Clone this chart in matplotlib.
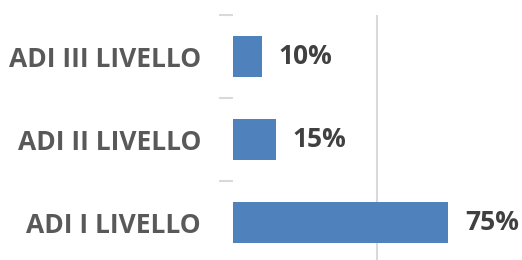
import matplotlib.pyplot as plt

livelli = ['ADI I LIVELLO', 'ADI II LIVELLO', 'ADI III LIVELLO']
percentuali = [75, 15, 10]

plt.rcParams['font.family'] = ['Open Sans', 'DejaVu Sans']

fig = plt.figure(figsize=(5.22, 2.6), dpi=100)
ax = fig.add_axes([233 / 522, -4 / 260, 287 / 522, 249 / 260])

pos = range(len(livelli))
ax.barh(pos, percentuali, height=0.5, color='#4f81bd', zorder=3)
for p, v in zip(pos, percentuali):
    ax.text(v + 5.8, p, f'{v}%', va='center', ha='left', fontsize=19,
            fontweight='bold', color='#404040')

ax.set_xlim(0, 100)
ax.set_ylim(-0.5, 2.5)
ax.set_xticks([50])
ax.xaxis.grid(True, color='#d9d9d9', linewidth=1.5, zorder=0)
ax.tick_params(axis='x', length=0, labelbottom=False)

ax.set_yticks([-0.5, 0.5, 1.5, 2.5], minor=False)
ax.set_yticklabels([])
ax.set_yticks(list(pos), minor=True)
ax.set_yticklabels(livelli, minor=True, fontsize=19, fontweight='bold', color='#595959')
ax.tick_params(axis='y', which='major', length=10, color='#d9d9d9', width=1.5)
ax.tick_params(axis='y', which='minor', length=0, pad=23)

for s in ax.spines.values():
    s.set_visible(False)

fig.savefig('out.png', dpi=100)
